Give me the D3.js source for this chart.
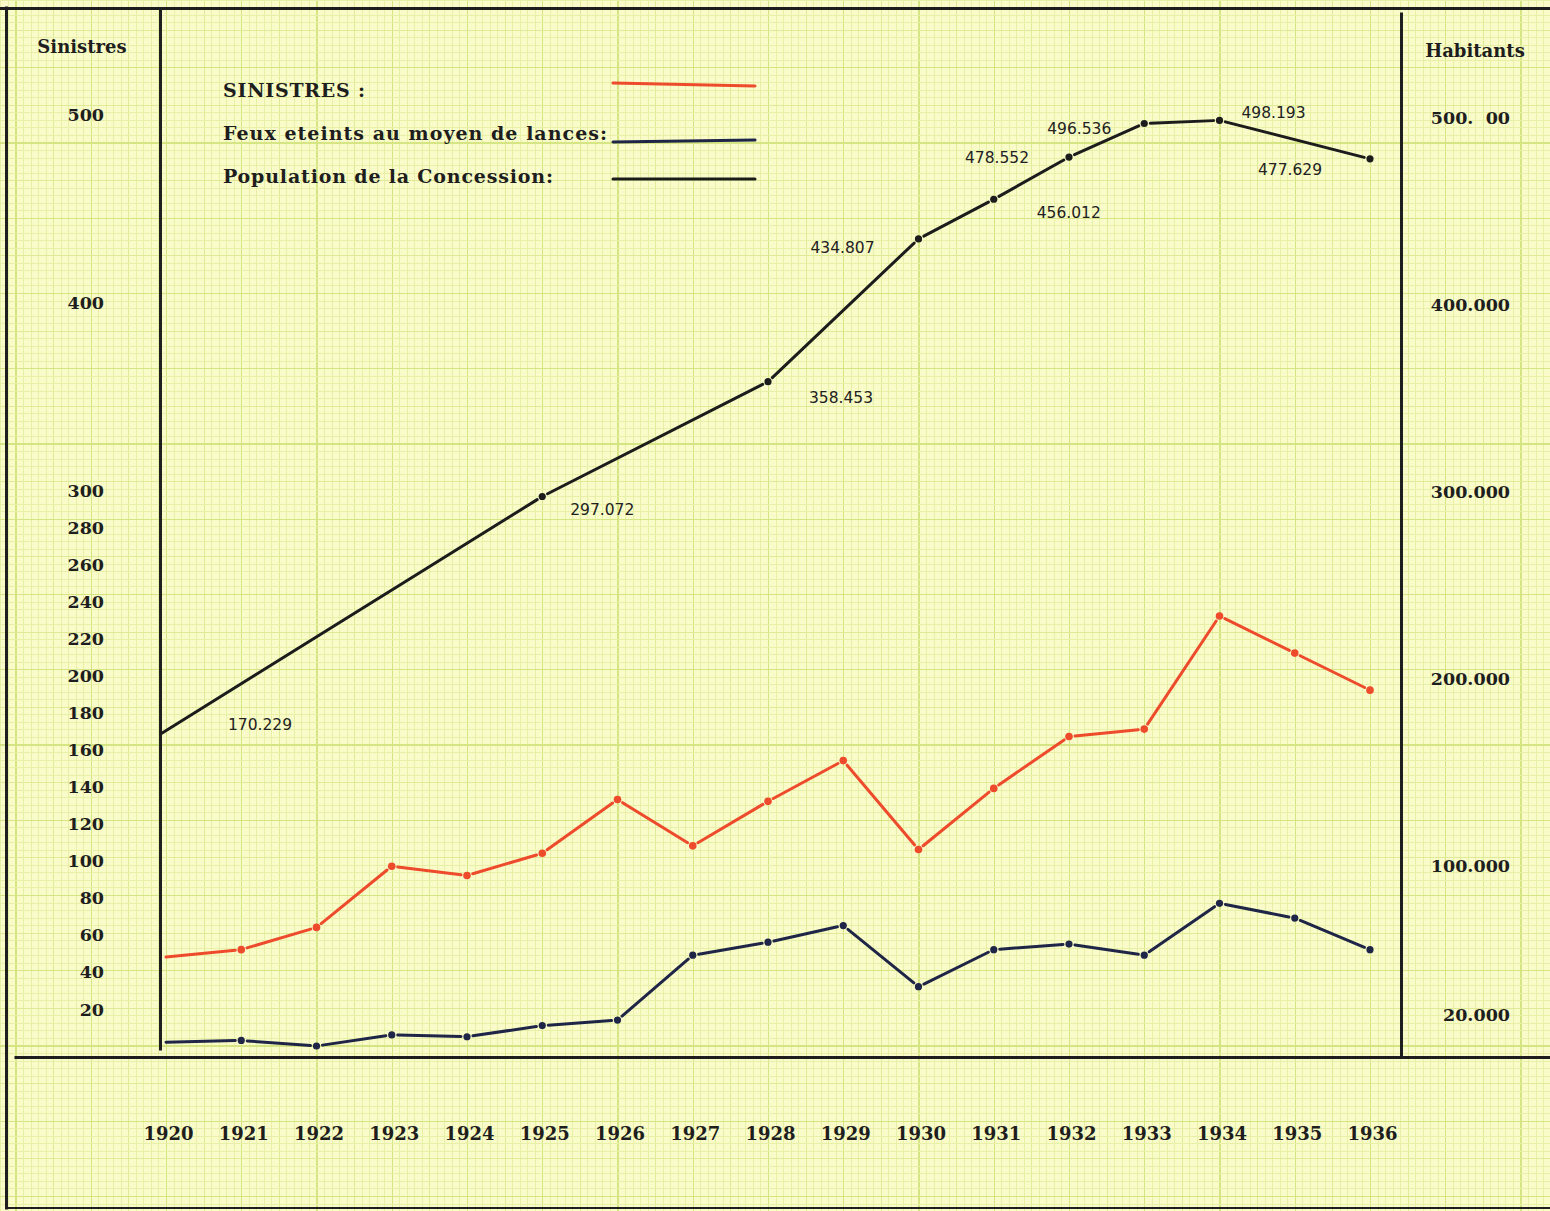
<!DOCTYPE html>
<html><head><meta charset="utf-8">
<script src="https://cdn.jsdelivr.net/npm/d3@7"></script>
<style>html,body{margin:0;padding:0;background:#f8fbc6;}svg{display:block;}</style>
</head><body>
<script>
// ---------- DATA ----------
const years = [1920,1921,1922,1923,1924,1925,1926,1927,1928,1929,1930,1931,1932,1933,1934,1935,1936];
const sinistres = [48,52,64,97,92,104,133,108,132,154,106,139,167,171,232,212,192];
const feuxLances = [2,3,0,6,5,11,14,49,56,65,32,52,55,49,77,69,52];
const popYears = [1920,1925,1928,1930,1931,1932,1933,1934,1936];
const population = [170229,297072,358453,434807,456012,478552,496536,498193,477629];
const popLabels = ["170.229","297.072","358.453","434.807","456.012","478.552","496.536","498.193","477.629"];
const leftTicks = [20,40,60,80,100,120,140,160,180,200,220,240,260,280,300,400,500];
const rightTicks = [20000,100000,200000,300000,400000,500000];
const rightTickLabels = ["20.000","100.000","200.000","300.000","400.000","500.  00"];
const legendLabels = ["SINISTRES :","Feux eteints au moyen de lances:","Population de la Concession:"];

// ---------- LAYOUT / STYLE ----------
const W = 1550, H = 1211;
const RED = "#ee4a2c", NAVY = "#1f2547", BLACK = "#1c1c1c", INK = "#1e1e1e";
const popLabelOffset = [[99,-9],[60,13],[73,16],[-76,9],[75,13],[-72,0],[-65,5],[54,-8],[-80,11]];
const SERIF = "'DejaVu Serif', serif";

const svg = d3.select("body").append("svg").attr("width", W).attr("height", H);
svg.append("rect").attr("width", W).attr("height", H).attr("fill", "#f9fbc9");

const x = d3.scaleLinear().domain([1920,1936]).range([166,1370]);
const yL = d3.scaleLinear().domain([0,300,500]).range([1046,490,114]);
const yR = d3.scaleLinear().domain([0,500000]).range([1052,117]);

// ---------- graph paper ----------
const step = 75.25/10;
const gx0 = 1220 % step, gy0 = 1046 % step;
const grid = svg.append("g").attr("shape-rendering", "crispEdges");
const gridCol = ["#e8f0a8","#dfea96","#d6e584"], gridW = [1,1,1.4];
for (let i = 0; gx0 + i*step < W; i++) {
  const xx = gx0 + i*step;
  const k = Math.round((xx - 1220)/step);
  const cls = k % 10 === 0 ? 2 : (k % 5 === 0 ? 1 : 0);
  grid.append("line").attr("x1", xx).attr("x2", xx).attr("y1", 0).attr("y2", H)
    .attr("stroke", gridCol[cls]).attr("stroke-width", gridW[cls]);
}
for (let i = 0; gy0 + i*step < H; i++) {
  const yy = gy0 + i*step;
  const k = Math.round((1046 - yy)/step);
  const cls = k % 10 === 0 ? 2 : (k % 5 === 0 ? 1 : 0);
  grid.append("line").attr("y1", yy).attr("y2", yy).attr("x1", 0).attr("x2", W)
    .attr("stroke", gridCol[cls]).attr("stroke-width", gridW[cls]);
}

// ---------- frame ----------
const frame = svg.append("g").attr("stroke", INK).attr("stroke-linecap", "square");
frame.append("line").attr("x1", 0).attr("x2", W).attr("y1", 8.5).attr("y2", 8.5).attr("stroke-width", 3);
frame.append("line").attr("x1", 6.5).attr("x2", 6.5).attr("y1", 8).attr("y2", 1208).attr("stroke-width", 3);
frame.append("line").attr("x1", 160.5).attr("x2", 160.5).attr("y1", 11).attr("y2", 1049).attr("stroke-width", 3);
frame.append("line").attr("x1", 1401.5).attr("x2", 1401.5).attr("y1", 14).attr("y2", 1055).attr("stroke-width", 3);
frame.append("line").attr("x1", 16).attr("x2", W).attr("y1", 1057.5).attr("y2", 1057.5).attr("stroke-width", 3);
frame.append("line").attr("x1", 8).attr("x2", W).attr("y1", 1208).attr("y2", 1208).attr("stroke-width", 2);

// ---------- axes (tick labels) ----------
const leftAxis = d3.axisLeft(yL).tickValues(leftTicks).tickSize(0).tickFormat(d3.format("d"));
const gl = svg.append("g").attr("transform", "translate(104,0)").call(leftAxis);
gl.select(".domain").remove();
gl.selectAll("text").attr("font-family", SERIF).attr("font-weight", "bold").attr("font-size", 17.5)
  .attr("fill", INK).attr("dy", "0.35em").attr("x", 0);

const rightAxis = d3.axisRight(yR).tickValues(rightTicks).tickSize(0).tickFormat((d,i) => rightTickLabels[i]);
const gr = svg.append("g").attr("transform", "translate(1510,0)").call(rightAxis);
gr.select(".domain").remove();
gr.selectAll("text").attr("font-family", SERIF).attr("font-weight", "bold").attr("font-size", 17.5)
  .attr("fill", INK).attr("text-anchor", "end").attr("x", 0).attr("dy", "0.35em")
  .attr("xml:space","preserve");

const bottomAxis = d3.axisBottom(x).tickValues(years).tickSize(0).tickFormat(d3.format("d"));
const gb = svg.append("g").attr("transform", "translate(2,1126)").call(bottomAxis);
gb.select(".domain").remove();
gb.selectAll("text").attr("font-family", SERIF).attr("font-weight", "bold").attr("font-size", 18)
  .attr("fill", INK).attr("y", 0).attr("dy", "0.75em");

svg.append("text").attr("x", 82).attr("y", 53).attr("text-anchor", "middle")
  .attr("font-family", SERIF).attr("font-weight", "bold").attr("font-size", 18).attr("fill", INK).text("Sinistres");
svg.append("text").attr("x", 1475).attr("y", 57).attr("text-anchor", "middle")
  .attr("font-family", SERIF).attr("font-weight", "bold").attr("font-size", 18).attr("fill", INK).text("Habitants");

// ---------- legend ----------
const legendColors = [RED, NAVY, BLACK];
const legendY = [90, 133, 176];
const legendW = [142, 384, 330];
legendLabels.forEach((t,i) => {
  svg.append("text").attr("x", 223).attr("y", legendY[i] + 7)
    .attr("font-family", SERIF).attr("font-weight", "bold").attr("font-size", 19).attr("fill", INK)
    .attr("textLength", legendW[i]).attr("lengthAdjust", "spacing").text(t);
});
const legendLineY = [[83,86],[142,140],[179,179]];
legendColors.forEach((c,i) => {
  svg.append("line").attr("x1", 613).attr("x2", 755).attr("y1", legendLineY[i][0]).attr("y2", legendLineY[i][1])
    .attr("stroke", c).attr("stroke-width", 3).attr("stroke-linecap", "round");
});

// ---------- series ----------
function drawSeries(pts, color, width, r, gap) {
  const g = svg.append("g");
  for (let i = 0; i < pts.length - 1; i++) {
    const [x1,y1] = pts[i], [x2,y2] = pts[i+1];
    const dx = x2-x1, dy = y2-y1, L = Math.hypot(dx,dy);
    const ux = dx/L, uy = dy/L;
    const g1 = i === 0 ? 0 : gap;
    g.append("line").attr("x1", x1+ux*g1).attr("y1", y1+uy*g1)
      .attr("x2", x2-ux*gap).attr("y2", y2-uy*gap)
      .attr("stroke", color).attr("stroke-width", width).attr("stroke-linecap", "round");
  }
  g.selectAll("circle").data(pts.slice(1)).join("circle")
    .attr("cx", d => d[0]).attr("cy", d => d[1]).attr("r", r).attr("fill", color);
}

drawSeries(years.map((yr,i) => [x(yr), yL(sinistres[i])]), RED, 3, 3.8, 6);
drawSeries(years.map((yr,i) => [x(yr), yL(feuxLances[i])]), NAVY, 3, 3.6, 6);
const popPts = popYears.map((yr,i) => [yr === 1920 ? 161 : x(yr), yR(population[i])]);
drawSeries(popPts, BLACK, 3, 3.6, 6);

// population value labels
svg.append("g").selectAll("text").data(popPts).join("text")
  .attr("x", (d,i) => d[0] + popLabelOffset[i][0]).attr("y", (d,i) => d[1] + popLabelOffset[i][1])
  .attr("dy", "0.35em").attr("text-anchor", "middle")
  .attr("font-family", "'DejaVu Sans', sans-serif").attr("font-size", 15.5).attr("fill", "#222")
  .text((d,i) => popLabels[i]);
</script>
</body></html>
